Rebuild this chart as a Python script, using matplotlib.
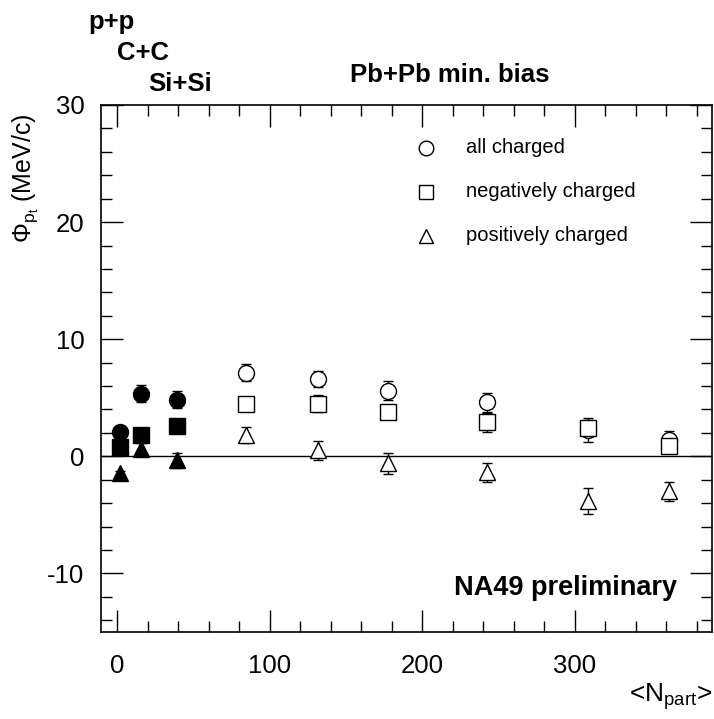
import matplotlib
matplotlib.use("Agg")
import matplotlib.pyplot as plt
from matplotlib.ticker import MultipleLocator

plt.rcParams['font.family'] = ['Liberation Sans', 'DejaVu Sans']
plt.rcParams['mathtext.fontset'] = 'custom'
plt.rcParams['mathtext.rm'] = 'Liberation Sans'
plt.rcParams['mathtext.it'] = 'Liberation Sans'
plt.rcParams['mathtext.bf'] = 'Liberation Sans:bold'
plt.rcParams['axes.unicode_minus'] = False

# small systems (filled): p+p, C+C, Si+Si
npart_small = [2, 15.5, 39.5]
all_small = [2.1, 5.35, 4.85]
all_small_err = [0.2, 0.7, 0.75]
neg_small = [0.8, 1.8, 2.55]
neg_small_err = [0.2, 0.55, 0.3]
pos_small = [-1.45, 0.65, -0.35]
pos_small_err = [0.2, 0.5, 0.65]

# Pb+Pb min. bias (open)
npart_pb = [84.5, 131.5, 177.5, 242.5, 309, 362]
all_pb = [7.15, 6.6, 5.6, 4.6, 2.25, 1.4]
all_pb_err = [0.7, 0.7, 0.8, 0.8, 1.0, 0.8]
neg_pb = [4.5, 4.5, 3.8, 2.9, 2.4, 0.9]
neg_pb_err = [0.3, 0.7, 0.4, 0.8, 0.7, 0.3]
pos_pb = [1.8, 0.5, -0.6, -1.35, -3.8, -3.0]
pos_pb_err = [0.7, 0.8, 0.9, 0.8, 1.1, 0.8]

legend_labels = ['all charged', 'negatively charged', 'positively charged']

fig = plt.figure(figsize=(7.14, 7.19), dpi=100)
ax = fig.add_axes([101/714, 1-632/719, 611/714, 527/719])

ms = 11.5
kw = dict(linestyle='none', ecolor='black', elinewidth=1, capsize=3.5, capthick=1, markersize=ms)
ax.errorbar(npart_small, all_small, yerr=all_small_err, marker='o', color='black', **kw)
ax.errorbar(npart_small, neg_small, yerr=neg_small_err, marker='s', color='black', **kw)
ax.errorbar(npart_small, pos_small, yerr=pos_small_err, marker='^', color='black', **kw)
ax.errorbar(npart_pb, all_pb, yerr=all_pb_err, marker='o', mfc='white', mec='black', **kw)
ax.errorbar(npart_pb, neg_pb, yerr=neg_pb_err, marker='s', mfc='white', mec='black', **kw)
ax.errorbar(npart_pb, pos_pb, yerr=pos_pb_err, marker='^', mfc='white', mec='black', **kw)

ax.axhline(0, color='black', lw=1)

ax.set_xlim(-10.5, 390)
ax.set_ylim(-15, 30)
ax.xaxis.set_major_locator(MultipleLocator(100))
ax.xaxis.set_minor_locator(MultipleLocator(20))
ax.yaxis.set_major_locator(MultipleLocator(10))
ax.yaxis.set_minor_locator(MultipleLocator(2))
ax.tick_params(which='both', direction='in', top=True, right=True, labelsize=18.5, width=1)
ax.tick_params(which='major', length=16)
ax.tick_params(which='minor', length=8)
ax.tick_params(axis='x', which='major', pad=16)
ax.tick_params(axis='y', which='major', pad=12)
for s in ax.spines.values():
    s.set_linewidth(1.2)

fig.text(25/714, 1-178/719, r'$\Phi_{\mathrm{p_t}}$ (MeV/c)', fontsize=18,
         rotation=90, ha='center', va='center')
fig.text(712/714, 1-697/719, r'<N$_{\mathrm{part}}$>', fontsize=19, ha='right', va='center')

# legend drawn by hand, ROOT style
leg_y = [26.35, 22.6, 18.85]
leg_mk = ['o', 's', '^']
for yy, mk, lab in zip(leg_y, leg_mk, legend_labels):
    ax.plot([202.5], [yy], marker=mk, mfc='white', mec='black', markersize=ms - 1, linestyle='none')
    ax.text(229, yy, lab, fontsize=14.5, va='center')

ax.text(367, -11.25, 'NA49 preliminary', fontsize=19.5, fontweight='bold', ha='right', va='center')

fig.text(88/714, 1-22/719, 'p+p', fontsize=18.5, fontweight='bold', va='center')
fig.text(117/714, 1-53/719, 'C+C', fontsize=18.5, fontweight='bold', va='center')
fig.text(148/714, 1-84/719, 'Si+Si', fontsize=18.5, fontweight='bold', va='center')
fig.text(450/714, 1-75/719, 'Pb+Pb min. bias', fontsize=18.5, fontweight='bold', ha='center', va='center')

fig.savefig('out.png', dpi=100)
